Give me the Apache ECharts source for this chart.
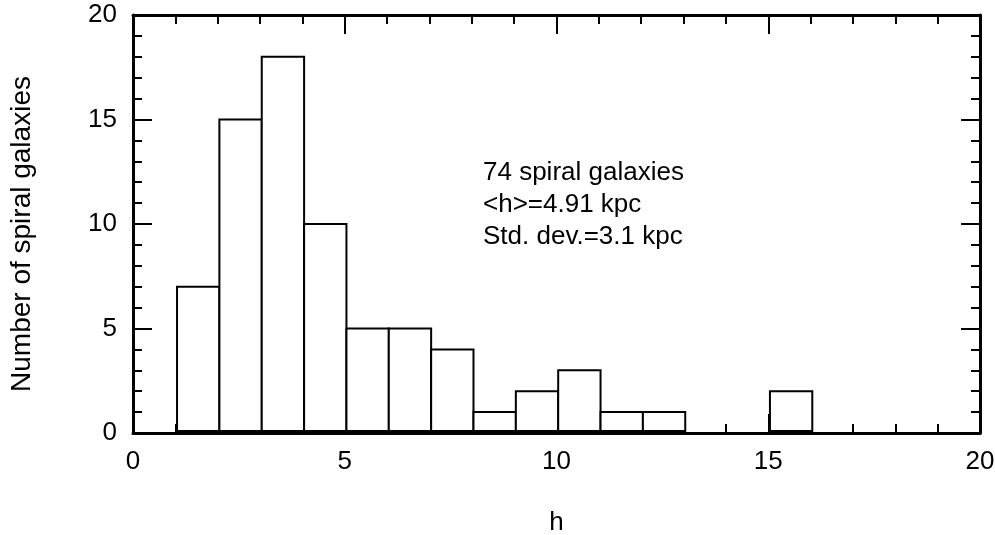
<!DOCTYPE html>
<html>
<head>
<meta charset="utf-8">
<script src="https://cdn.jsdelivr.net/npm/echarts@6/dist/echarts.min.js"></script>
<style>
  html, body { margin: 0; padding: 0; background: #fff; }
  #chart { width: 995px; height: 535px; }
</style>
</head>
<body>
<div id="chart"></div>
<script>
// Distribution of disc scale lengths h (kpc) for a sample of spiral galaxies.
const binLeft  = [1.04, 2.04, 3.04, 4.04, 5.04, 6.04, 7.04, 8.04, 9.04, 10.04, 11.04, 12.04, 13.04, 14.04, 15.04];
const binRight = [2.04, 3.04, 4.04, 5.04, 6.04, 7.04, 8.04, 9.04, 10.04, 11.04, 12.04, 13.04, 14.04, 15.04, 16.04];
const counts   = [7, 15, 18, 10, 5, 5, 4, 1, 2, 3, 1, 1, 0, 0, 2];

const xTickLabels = [0, 5, 10, 15, 20];
const yTickLabels = [0, 5, 10, 15, 20];

const xTitle = 'h';
const yTitle = 'Number of spiral galaxies';
const noteLines = ['74 spiral galaxies', '<h>=4.91 kpc', 'Std. dev.=3.1 kpc'];

const FONT = '"Liberation Sans", Arial, Helvetica, sans-serif';
const INK = '#000';

function axisRange(ticks) {
  return { min: ticks[0], max: ticks[ticks.length - 1], interval: ticks[1] - ticks[0] };
}

function frameAxis(ticks, position, withLabels) {
  const r = axisRange(ticks);
  return {
    type: 'value',
    position: position,
    min: r.min,
    max: r.max,
    interval: r.interval,
    axisLine: { show: true, onZero: false, lineStyle: { color: INK, width: 3 } },
    axisTick: { show: true, inside: true, length: 19, lineStyle: { color: INK, width: 2 } },
    minorTick: { show: true, splitNumber: 5, length: 9, lineStyle: { color: INK, width: 2 } },
    splitLine: { show: false },
    minorSplitLine: { show: false },
    axisLabel: {
      show: withLabels,
      margin: 16,
      fontSize: 26,
      fontFamily: FONT,
      color: INK
    }
  };
}

const xBottom = frameAxis(xTickLabels, 'bottom', true);
xBottom.name = xTitle;
xBottom.nameLocation = 'middle';
xBottom.nameGap = 77;
xBottom.nameTextStyle = { fontSize: 26, fontFamily: FONT, color: INK };

const histData = binLeft.map((lo, i) => [lo, binRight[i], counts[i]]);

const chart = echarts.init(document.getElementById('chart'), null, { renderer: 'canvas' });

chart.setOption({
  animation: false,
  backgroundColor: '#fff',
  grid: { left: 133, right: 15, top: 15, bottom: 102, containLabel: false, outerBoundsMode: 'none' },
  xAxis: [xBottom, frameAxis(xTickLabels, 'top', false)],
  yAxis: [frameAxis(yTickLabels, 'left', true), frameAxis(yTickLabels, 'right', false)],
  graphic: [
    {
      type: 'text',
      x: 22,
      y: 234,
      rotation: Math.PI / 2,
      style: {
        text: yTitle,
        fontSize: 28,
        fontFamily: FONT,
        fill: INK,
        align: 'center',
        verticalAlign: 'middle'
      }
    },
    {
      type: 'text',
      left: 483,
      top: 157,
      style: {
        text: noteLines.join('\n'),
        fontSize: 26,
        lineHeight: 32,
        fontFamily: FONT,
        fill: INK
      }
    }
  ],
  series: [{
    type: 'custom',
    xAxisIndex: 0,
    yAxisIndex: 0,
    data: histData,
    encode: { x: [0, 1], y: 2 },
    renderItem: function (params, api) {
      const lo = api.value(0), hi = api.value(1), n = api.value(2);
      if (n <= 0) return null;
      const p0 = api.coord([lo, n]);
      const p1 = api.coord([hi, 0]);
      return {
        type: 'rect',
        shape: { x: p0[0], y: p0[1], width: p1[0] - p0[0], height: p1[1] - p0[1] - 2 },
        style: { fill: '#fff', stroke: INK, lineWidth: 2 }
      };
    },
    z: 1
  }]
});
</script>
</body>
</html>
